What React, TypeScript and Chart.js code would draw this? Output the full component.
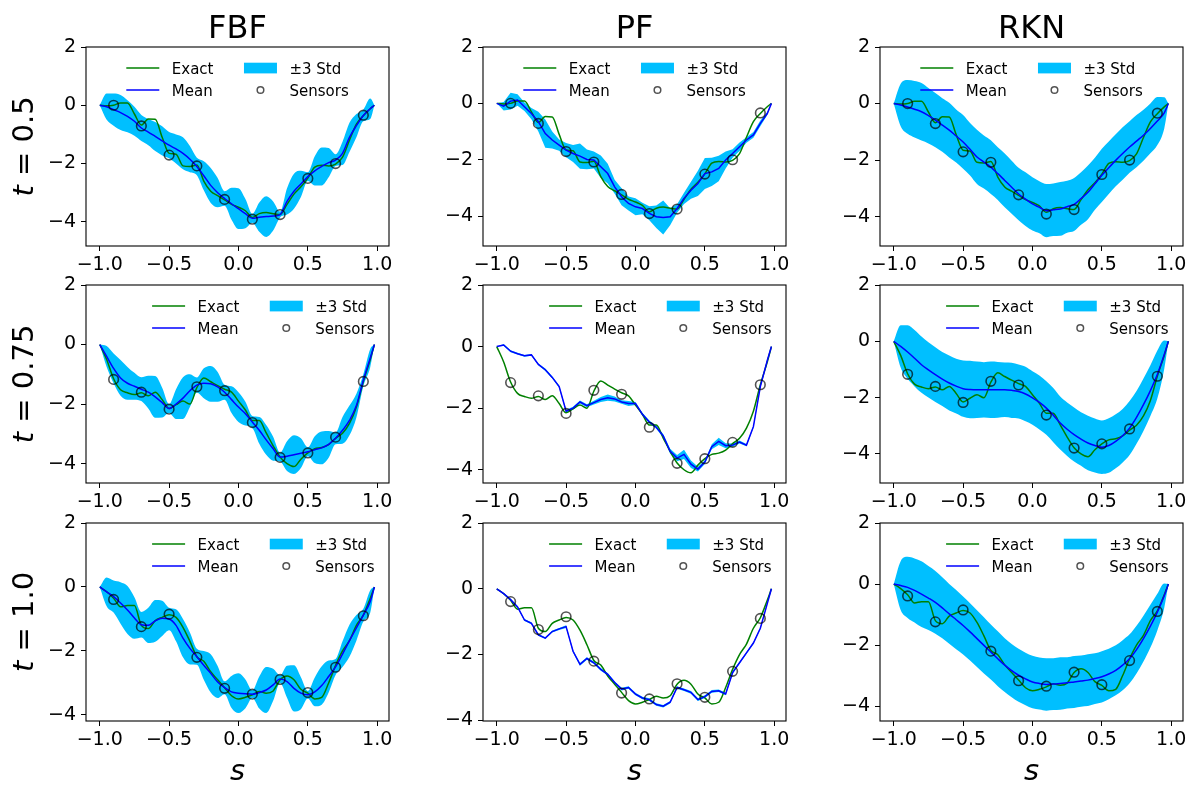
import React, { useEffect, useRef } from "react";
import { Chart, registerables } from "chart.js";

Chart.register(...registerables);

// ---------- data ----------
const S = [
  -1, -0.95, -0.9, -0.85, -0.8, -0.75, -0.7, -0.65, -0.6, -0.55,
  -0.5, -0.45, -0.4, -0.35, -0.3, -0.25, -0.2, -0.15, -0.1, -0.05,
  0, 0.05, 0.1, 0.15, 0.2, 0.25, 0.3, 0.35, 0.4, 0.45,
  0.5, 0.55, 0.6, 0.65, 0.7, 0.75, 0.8, 0.85, 0.9, 0.95, 0.98,
];
const SENSOR_S = [-0.9, -0.7, -0.5, -0.3, -0.1, 0.1, 0.3, 0.5, 0.7, 0.9];

const sensors05 = [0.0, -0.71, -1.71, -2.08, -3.23, -3.91, -3.75, -2.51, -2.0, -0.34];
const sensors075 = [-1.17, -1.6, -2.17, -1.42, -1.55, -2.62, -3.79, -3.64, -3.11, -1.24];
const sensors10 = [-0.39, -1.24, -0.85, -2.2, -3.17, -3.35, -2.89, -3.3, -2.51, -0.9];

const exact05 = [
  0, -0.02, 0.0, 0.08, 0.08, -0.3, -0.68, -0.47, -0.48, -1.1,
  -1.65, -1.68, -2.08, -2.1, -2.05, -2.6, -2.95, -3.1, -3.25, -3.4,
  -3.5, -3.62, -3.85, -3.72, -3.68, -3.72, -3.75, -3.4, -3.05, -2.8,
  -2.5, -2.12, -2.06, -2.08, -2.02, -1.78, -1.2, -0.65, -0.36, -0.12, 0,
];
const exact075 = [
  0, -0.5, -1.15, -1.52, -1.62, -1.68, -1.62, -1.72, -1.6, -1.85,
  -2.15, -2.02, -1.9, -2.0, -1.45, -1.12, -1.25, -1.38, -1.5, -1.6,
  -1.9, -2.2, -2.55, -2.55, -2.97, -3.4, -3.78, -4.0, -4.1, -3.85,
  -3.64, -3.5, -3.46, -3.36, -3.15, -2.98, -2.65, -2.1, -1.24, -0.5, 0,
];
const exact10 = [
  0, -0.15, -0.35, -0.62, -0.58, -0.58, -1.2, -1.3, -1.05, -0.95,
  -0.87, -0.95, -1.26, -1.7, -2.18, -2.32, -2.65, -2.9, -3.15, -3.4,
  -3.5, -3.45, -3.37, -3.27, -3.32, -3.25, -2.9, -2.78, -2.9, -3.2,
  -3.32, -3.5, -3.45, -3.0, -2.45, -2.0, -1.68, -1.2, -0.88, -0.35, 0,
];

// FBF
const meanFBF05 = [
  0, -0.05, -0.15, -0.25, -0.38, -0.55, -0.78, -0.92, -1.07, -1.22,
  -1.37, -1.5, -1.65, -1.85, -2.1, -2.42, -2.75, -3.0, -3.2, -3.38,
  -3.55, -3.72, -3.88, -3.84, -3.82, -3.8, -3.75, -3.3, -2.95, -2.7,
  -2.45, -2.25, -2.1, -1.97, -1.88, -1.65, -1.1, -0.7, -0.35, -0.12, 0,
];
const std3FBF05 = [
  0, 0.45, 0.55, 0.6, 0.55, 0.5, 0.45, 0.45, 0.5, 0.5,
  0.45, 0.5, 0.55, 0.45, 0.3, 0.5, 0.6, 0.5, 0.25, 0.55,
  0.7, 0.5, 0.15, 0.5, 0.7, 0.5, 0.1, 0.45, 0.6, 0.45,
  0.15, 0.5, 0.65, 0.5, 0.2, 0.4, 0.5, 0.4, 0.2, 0.35, 0,
];
const meanFBF075 = [
  0, -0.4, -0.8, -1.12, -1.3, -1.4, -1.5, -1.6, -1.76, -1.95,
  -2.15, -2.0, -1.8, -1.55, -1.36, -1.3, -1.32, -1.42, -1.6, -1.85,
  -2.1, -2.32, -2.6, -2.88, -3.2, -3.5, -3.78, -3.75, -3.7, -3.65,
  -3.6, -3.53, -3.47, -3.35, -3.15, -2.88, -2.55, -2.05, -1.2, -0.45, 0,
];
const std3FBF075 = [
  0, 0.35, 0.5, 0.6, 0.55, 0.45, 0.4, 0.55, 0.7, 0.5,
  0.15, 0.5, 0.7, 0.55, 0.25, 0.5, 0.6, 0.5, 0.25, 0.45,
  0.5, 0.4, 0.2, 0.45, 0.5, 0.4, 0.15, 0.5, 0.65, 0.5,
  0.15, 0.45, 0.55, 0.45, 0.2, 0.45, 0.5, 0.4, 0.2, 0.3, 0,
];
const meanFBF10 = [
  0, -0.15, -0.3, -0.5, -0.72, -0.97, -1.18, -1.2, -1.06, -0.98,
  -1.0, -1.2, -1.6, -1.92, -2.18, -2.45, -2.7, -2.97, -3.15, -3.28,
  -3.32, -3.34, -3.35, -3.3, -3.22, -3.06, -2.88, -2.96, -3.17, -3.32,
  -3.37, -3.28, -3.08, -2.8, -2.5, -2.1, -1.68, -1.28, -0.88, -0.45, 0,
];
const std3FBF10 = [
  0, 0.45, 0.5, 0.65, 0.75, 0.65, 0.4, 0.55, 0.65, 0.55,
  0.35, 0.5, 0.6, 0.5, 0.25, 0.45, 0.6, 0.5, 0.2, 0.5,
  0.62, 0.45, 0.12, 0.5, 0.72, 0.5, 0.12, 0.5, 0.72, 0.5,
  0.12, 0.45, 0.6, 0.5, 0.25, 0.4, 0.5, 0.4, 0.2, 0.35, 0,
];

// PF
const meanPF05 = [
  0, -0.1, 0.08, 0.12, -0.12, -0.36, -0.65, -1.07, -1.3, -1.48,
  -1.66, -1.78, -1.87, -1.99, -2.01, -2.25, -2.49, -2.96, -3.31, -3.55,
  -3.67, -3.73, -3.9, -4.02, -4.05, -4.02, -3.73, -3.37, -3.08, -2.84,
  -2.49, -2.43, -2.31, -2.01, -1.78, -1.54, -1.3, -1.12, -0.71, -0.36, 0,
];
const std3PF05 = [
  0, 0.15, 0.3, 0.2, 0.15, 0.2, 0.35, 0.5, 0.3, 0.2,
  0.25, 0.3, 0.45, 0.35, 0.3, 0.4, 0.35, 0.25, 0.3, 0.25,
  0.3, 0.2, 0.25, 0.4, 0.6, 0.3, 0.15, 0.2, 0.3, 0.45,
  0.55, 0.5, 0.45, 0.3, 0.15, 0.15, 0.1, 0.1, 0.1, 0.05, 0,
];
const meanPF075 = [
  0, 0.05, -0.15, -0.23, -0.3, -0.27, -0.58, -0.75, -1.0, -1.3,
  -2.1, -2.0, -1.8, -1.92, -1.82, -1.72, -1.66, -1.7, -1.8, -1.85,
  -1.85, -2.2, -2.45, -2.62, -2.9, -3.4, -3.62, -3.5, -3.82, -3.98,
  -3.75, -3.25, -3.08, -3.22, -3.2, -3.1, -3.2, -2.6, -1.3, -0.45, 0,
];
const std3PF075 = [
  0, 0.03, 0.03, 0.03, 0.03, 0.03, 0.03, 0.04, 0.04, 0.04,
  0.05, 0.05, 0.05, 0.05, 0.06, 0.08, 0.1, 0.08, 0.06, 0.08,
  0.05, 0.05, 0.05, 0.05, 0.06, 0.08, 0.1, 0.15, 0.12, 0.08,
  0.06, 0.08, 0.12, 0.08, 0.05, 0.05, 0.04, 0.04, 0.03, 0.02, 0,
];
const meanPF10 = [
  0, -0.15, -0.33, -0.55, -0.95, -1.05, -1.4, -1.5, -1.3, -1.22,
  -1.15, -1.9, -2.3, -2.12, -2.25, -2.45, -2.6, -2.85, -3.05, -3.0,
  -3.2, -3.32, -3.37, -3.52, -3.57, -3.45, -3.0, -3.07, -3.15, -3.37,
  -3.28, -3.12, -3.1, -3.2, -2.55, -2.25, -1.95, -1.65, -1.2, -0.45, 0,
];
const std3PF10 = [
  0, 0.02, 0.03, 0.03, 0.03, 0.03, 0.03, 0.03, 0.03, 0.03,
  0.04, 0.04, 0.04, 0.04, 0.04, 0.04, 0.04, 0.04, 0.04, 0.04,
  0.04, 0.04, 0.04, 0.04, 0.04, 0.04, 0.04, 0.04, 0.04, 0.04,
  0.04, 0.04, 0.04, 0.04, 0.04, 0.03, 0.03, 0.03, 0.03, 0.02, 0,
];

// RKN
const meanRKN05 = [
  0, -0.05, -0.12, -0.2, -0.29, -0.43, -0.59, -0.76, -0.94, -1.15,
  -1.36, -1.62, -1.89, -2.07, -2.25, -2.48, -2.72, -2.96, -3.2, -3.38,
  -3.55, -3.67, -3.79, -3.76, -3.73, -3.65, -3.57, -3.36, -3.14, -2.84,
  -2.54, -2.27, -2.01, -1.77, -1.54, -1.33, -1.12, -0.88, -0.62, -0.33, 0,
];
const std3RKN05 = [
  0, 0.75, 0.95, 1.0, 1.02, 0.98, 0.96, 0.95, 0.97, 0.94,
  0.95, 0.93, 0.96, 0.94, 0.95, 0.93, 0.95, 0.94, 0.93, 0.95,
  0.94, 0.92, 0.94, 0.93, 0.95, 0.92, 0.94, 0.93, 0.95, 0.92,
  0.94, 0.93, 0.92, 0.93, 0.91, 0.92, 0.9, 0.88, 0.85, 0.55, 0,
];
const meanRKN075 = [
  0, -0.18, -0.38, -0.6, -0.83, -1.01, -1.18, -1.34, -1.48, -1.59,
  -1.68, -1.71, -1.72, -1.72, -1.72, -1.72, -1.72, -1.74, -1.78, -1.87,
  -2.01, -2.17, -2.37, -2.62, -2.9, -3.12, -3.31, -3.47, -3.61, -3.7,
  -3.76, -3.7, -3.55, -3.35, -3.08, -2.7, -2.25, -1.75, -1.18, -0.47, 0,
];
const std3RKN075 = [
  0, 0.75, 0.95, 1.0, 1.0, 0.98, 0.97, 0.96, 0.98, 0.97,
  1.0, 1.02, 1.0, 0.98, 1.0, 0.99, 0.97, 0.98, 0.96, 0.97,
  0.95, 0.96, 0.95, 0.96, 0.94, 0.95, 0.96, 0.95, 0.97, 0.96,
  0.95, 0.97, 0.96, 0.95, 0.96, 0.94, 0.93, 0.9, 0.85, 0.5, 0,
];
const meanRKN10 = [
  0, -0.05, -0.11, -0.21, -0.33, -0.46, -0.6, -0.78, -0.98, -1.17,
  -1.36, -1.57, -1.79, -2.01, -2.23, -2.45, -2.66, -2.84, -2.99, -3.11,
  -3.21, -3.26, -3.29, -3.28, -3.26, -3.24, -3.21, -3.18, -3.15, -3.1,
  -3.04, -2.95, -2.83, -2.66, -2.45, -2.15, -1.79, -1.38, -0.92, -0.38, 0,
];
const std3RKN10 = [
  0, 0.8, 1.0, 1.05, 1.08, 1.05, 1.03, 1.0, 0.98, 0.97,
  0.95, 0.94, 0.93, 0.92, 0.9, 0.9, 0.88, 0.87, 0.87, 0.86,
  0.86, 0.85, 0.86, 0.85, 0.86, 0.84, 0.85, 0.84, 0.85, 0.83,
  0.84, 0.83, 0.82, 0.82, 0.8, 0.78, 0.75, 0.7, 0.6, 0.4, 0,
];

const METHODS = ["FBF", "PF", "RKN"];
const T_LABELS = ["0.5", "0.75", "1.0"];
const X_TICKS = [-1, -0.5, 0, 0.5, 1];
const Y_TICKS = [-4, -2, 0, 2];
const LEGEND_LABELS = ["Exact", "Mean", "\u00b13 Std", "Sensors"];

// ---------- layout ----------
const AREA_LEFT = [86, 483, 880];
const AREA_TOP = [47, 285, 523];
const AREA_H = [199, 198, 198];
const AREA_W = 303;
const Y_MIN = [
  [-4.83, -5.06, -5.04],
  [-4.65, -4.43, -5.03],
  [-4.19, -4.02, -4.49],
];
const X_MIN = -1.099;
const X_MAX = 1.085;

const FONT = '"DejaVu Sans", sans-serif';
const C_EXACT = "#008000";
const C_MEAN = "#0000ff";
const C_BAND = "#00bfff";
const C_SENSOR = "rgba(0,0,0,0.68)";

type PanelSpec = {
  row: number;
  col: number;
  exact: number[];
  mean: number[];
  band: number[];
  sensors: number[];
  smooth: boolean;
};

const ROWS = [
  { exact: exact05, sensors: sensors05, means: [meanFBF05, meanPF05, meanRKN05], bands: [std3FBF05, std3PF05, std3RKN05] },
  { exact: exact075, sensors: sensors075, means: [meanFBF075, meanPF075, meanRKN075], bands: [std3FBF075, std3PF075, std3RKN075] },
  { exact: exact10, sensors: sensors10, means: [meanFBF10, meanPF10, meanRKN10], bands: [std3FBF10, std3PF10, std3RKN10] },
];

const PANELS: PanelSpec[] = [];
ROWS.forEach((r, ri) => {
  METHODS.forEach((_m, ci) => {
    PANELS.push({
      row: ri,
      col: ci,
      exact: r.exact,
      mean: r.means[ci],
      band: r.bands[ci],
      sensors: r.sensors,
      smooth: ci !== 1,
    });
  });
});

const minusFmt = (v: number, digits: number) =>
  (v < -1e-9 ? "\u2212" : "") + Math.abs(v).toFixed(digits);

const decorPlugin = {
  id: "decor",
  afterDraw(chart: any, _args: any, opts: any) {
    const { ctx, chartArea: a } = chart;
    ctx.save();
    // frame
    ctx.strokeStyle = "#000";
    ctx.lineWidth = 1.1;
    ctx.strokeRect(a.left, a.top, a.right - a.left, a.bottom - a.top);

    // legend
    ctx.font = `15px ${FONT}`;
    const mw = (t: string) => ctx.measureText(t).width;
    const hl = 33, hp = 12.5, cs = 30.5;
    const w1 = Math.max(mw(LEGEND_LABELS[0]), mw(LEGEND_LABELS[1]));
    const w2 = Math.max(mw(LEGEND_LABELS[2]), mw(LEGEND_LABELS[3]));
    const total = hl + hp + w1 + cs + hl + hp + w2;
    const x0 = opts.legendLoc === "center" ? (a.left + a.right) / 2 - total / 2 : a.right - 14.5 - total;
    const y1 = a.top + 21;
    const y2 = a.top + 43;
    const x1 = x0 + hl + hp + w1 + cs;
    ctx.lineWidth = 1.5;
    ctx.strokeStyle = C_EXACT;
    ctx.beginPath(); ctx.moveTo(x0, y1); ctx.lineTo(x0 + hl, y1); ctx.stroke();
    ctx.strokeStyle = C_MEAN;
    ctx.beginPath(); ctx.moveTo(x0, y2); ctx.lineTo(x0 + hl, y2); ctx.stroke();
    ctx.fillStyle = C_BAND;
    ctx.fillRect(x1, y1 - 5.3, hl, 10.7);
    ctx.strokeStyle = C_SENSOR;
    ctx.lineWidth = 1.5;
    ctx.beginPath(); ctx.arc(x1 + hl / 2, y2, 3.3, 0, Math.PI * 2); ctx.stroke();
    ctx.fillStyle = "#000";
    ctx.textAlign = "left";
    ctx.textBaseline = "alphabetic";
    ctx.fillText(LEGEND_LABELS[0], x0 + hl + hp, y1 + 5.5);
    ctx.fillText(LEGEND_LABELS[1], x0 + hl + hp, y2 + 5.5);
    ctx.fillText(LEGEND_LABELS[2], x1 + hl + hp, y1 + 5.5);
    ctx.fillText(LEGEND_LABELS[3], x1 + hl + hp, y2 + 5.5);

    const cx = (a.left + a.right) / 2;
    // column title
    if (opts.title) {
      ctx.font = `32px ${FONT}`;
      ctx.textAlign = "center";
      ctx.fillText(opts.title, cx, a.top - 9);
    }
    // x label
    if (opts.xLabel) {
      ctx.font = `italic 29px ${FONT}`;
      ctx.textAlign = "center";
      ctx.fillText(opts.xLabel, cx, a.bottom + 59);
    }
    // row label
    if (opts.rowLabel) {
      const cy = (a.top + a.bottom) / 2;
      ctx.translate(a.left - 53, cy);
      ctx.rotate(-Math.PI / 2);
      const fi = `italic 29px ${FONT}`;
      const fn = `29px ${FONT}`;
      ctx.font = fi;
      const wt = ctx.measureText("t").width;
      ctx.font = fn;
      const weq = ctx.measureText(" = ").width;
      const wv = ctx.measureText(opts.rowLabel).width;
      const tot = wt + weq + wv;
      let x = -tot / 2;
      ctx.textAlign = "left";
      ctx.font = fi;
      ctx.fillText("t", x, 0);
      x += wt;
      ctx.font = fn;
      ctx.fillText(" = ", x, 0);
      x += weq;
      ctx.fillText(opts.rowLabel, x, 0);
    }
    ctx.restore();
  },
};

function Panel({ p }: { p: PanelSpec }) {
  const ref = useRef<HTMLCanvasElement>(null);
  const left = AREA_LEFT[p.col] - 80;
  const top = AREA_TOP[p.row] - 45;
  const width = 80 + AREA_W + 12;
  const height = 45 + AREA_H[p.row] + 64;

  useEffect(() => {
    if (!ref.current) return;
    const lower = S.map((x, i) => ({ x, y: p.mean[i] - p.band[i] }));
    const upper = S.map((x, i) => ({ x, y: p.mean[i] + p.band[i] }));
    const exact = S.map((x, i) => ({ x, y: p.exact[i] }));
    const mean = S.map((x, i) => ({ x, y: p.mean[i] }));
    const sens = SENSOR_S.map((x, i) => ({ x, y: p.sensors[i] }));
    const interp = p.smooth ? { cubicInterpolationMode: "monotone" as const } : { tension: 0 };
    const tickFont = { family: FONT, size: 19 };

    const chart = new Chart(ref.current, {
      type: "line",
      data: {
        datasets: [
          { label: "lower", data: lower, borderColor: "rgba(0,0,0,0)", borderWidth: 0, pointRadius: 0, fill: false, order: 4, ...interp },
          { label: "\u00b13 Std", data: upper, borderColor: "rgba(0,0,0,0)", borderWidth: 0, pointRadius: 0, backgroundColor: C_BAND, fill: "-1", order: 3, ...interp },
          { label: "Exact", data: exact, borderColor: C_EXACT, borderWidth: 1.5, pointRadius: 0, fill: false, order: 2, cubicInterpolationMode: "monotone" },
          { label: "Mean", data: mean, borderColor: C_MEAN, borderWidth: 1.5, pointRadius: 0, fill: false, order: 1, ...interp },
          {
            label: "Sensors", data: sens, showLine: false, pointRadius: 4.8, pointBorderWidth: 1.6,
            pointBackgroundColor: "rgba(0,0,0,0)", pointBorderColor: C_SENSOR, order: 0,
          },
        ] as any,
      },
      options: {
        responsive: false,
        animation: false,
        events: [],
        layout: { padding: { left: 0, top: 45, right: 12, bottom: 0 } },
        plugins: {
          legend: { display: false },
          tooltip: { enabled: false },
          decor: {
            legendLoc: p.row === 0 ? "center" : "right",
            title: p.row === 0 ? METHODS[p.col] : "",
            xLabel: p.row === 2 ? "s" : "",
            rowLabel: p.col === 0 ? T_LABELS[p.row] : "",
          },
        } as any,
        scales: {
          x: {
            type: "linear",
            min: X_MIN,
            max: X_MAX,
            afterBuildTicks: (axis: any) => { axis.ticks = X_TICKS.map((v) => ({ value: v })); },
            afterFit: (s: any) => { s.height = 64; },
            ticks: { font: tickFont, color: "#000", padding: 3, maxRotation: 0, autoSkip: false, callback: (v: any) => minusFmt(Number(v), 1) },
            grid: { drawOnChartArea: false, drawTicks: true, tickLength: 5, color: "#000", lineWidth: 1 },
            border: { display: false },
          },
          y: {
            type: "linear",
            min: Y_MIN[p.row][p.col],
            max: 2,
            afterBuildTicks: (axis: any) => { axis.ticks = Y_TICKS.map((v) => ({ value: v })); },
            afterFit: (s: any) => { s.width = 80; },
            ticks: { font: tickFont, color: "#000", padding: 5, autoSkip: false, callback: (v: any) => minusFmt(Number(v), 0) },
            grid: { drawOnChartArea: false, drawTicks: true, tickLength: 5, color: "#000", lineWidth: 1 },
            border: { display: false },
          },
        },
      },
      plugins: [decorPlugin as any],
    });
    return () => chart.destroy();
  }, []);

  return (
    <canvas
      ref={ref}
      width={width}
      height={height}
      style={{ position: "absolute", left, top, width, height }}
    />
  );
}

export default function App() {
  return (
    <div
      style={{
        position: "absolute",
        left: 0,
        top: 0,
        width: 1197,
        height: 785,
        overflow: "hidden",
        background: "#fff",
      }}
    >
      {PANELS.map((p) => (
        <Panel key={`${p.row}-${p.col}`} p={p} />
      ))}
    </div>
  );
}
